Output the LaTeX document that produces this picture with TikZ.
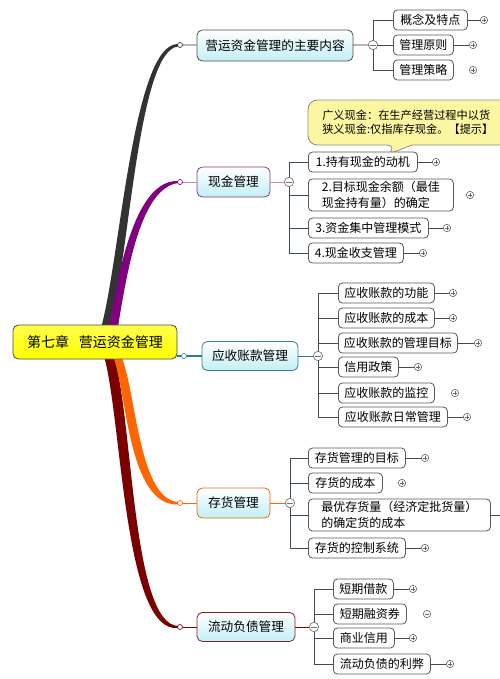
\documentclass[tikz,border=0pt]{standalone}
\usepackage{fontspec}
\setmainfont{Noto Sans CJK SC}
\usetikzlibrary{backgrounds}

\definecolor{branchA}{HTML}{333333}
\definecolor{branchB}{HTML}{800080}
\definecolor{branchC}{HTML}{2E7D8C}
\definecolor{branchD}{HTML}{FF6600}
\definecolor{branchE}{HTML}{7B0000}
\definecolor{topicfill}{HTML}{C2EFF5}
\definecolor{notefill}{HTML}{FAF6A2}
\definecolor{twigline}{HTML}{3E4C58}

\tikzset{
  rootbox/.style={draw=black!70, line width=0.6pt, rounded corners=4pt,
    top color=yellow!70!white, bottom color=yellow,
    font=\fontsize{10.5}{12}\selectfont, inner sep=0pt},
  topic/.style={line width=0.6pt, rounded corners=4pt, top color=white,
    bottom color=topicfill, font=\fontsize{9.5}{11}\selectfont, inner sep=0pt},
  leaf/.style={draw=black!65, line width=0.6pt, rounded corners=3pt, fill=white,
    align=left, font=\fontsize{9}{11.5}\selectfont, inner xsep=4pt,
    inner ysep=2pt, minimum height=15pt, anchor=west},
  twig/.style={draw=twigline, line width=0.6pt},
  knob/.style={circle, fill=white, line width=0.5pt, minimum size=3.75pt, inner sep=0pt},
  plusknob/.style={circle, draw=black!60, fill=white, line width=0.45pt,
    minimum size=5.5pt, inner sep=0pt,
    path picture={\draw[line width=0.45pt]
      ([xshift=-1.5pt]path picture bounding box.center) -- ([xshift=1.5pt]path picture bounding box.center)
      ([yshift=-1.5pt]path picture bounding box.center) -- ([yshift=1.5pt]path picture bounding box.center);}},
  minusknob/.style={circle, draw=black!60, fill=white, line width=0.45pt,
    minimum size=5.5pt, inner sep=0pt,
    path picture={\draw[line width=0.45pt]
      ([xshift=-1.5pt]path picture bounding box.center) -- ([xshift=1.5pt]path picture bounding box.center);}},
  fold/.style={circle, draw=black!55, fill=white, line width=0.5pt,
    minimum size=7pt, inner sep=0pt,
    path picture={\draw[line width=0.5pt]
      ([xshift=-2pt]path picture bounding box.center) -- ([xshift=2pt]path picture bounding box.center);}},
}

\begin{document}
\begin{tikzpicture}[x=0.75pt, y=-0.75pt]
\useasboundingbox (0,0) rectangle (500,679);
\clip (0,0) rectangle (500,679);

% central topic
\node[rootbox, minimum width=123pt, minimum height=25.5pt] (root) at (95,342)
  {第七章\hspace{0.7em}营运资金管理};

% main topics
\node[topic, draw=branchA!60!gray, minimum width=117pt, minimum height=23.25pt] (m1) at (275,45.5) {营运资金管理的主要内容};
\node[topic, draw=branchB!50!gray, minimum width=54.75pt, minimum height=22.5pt] (m2) at (233.5,182) {现金管理};
\node[topic, draw=branchC!80!gray, minimum width=72pt, minimum height=21.75pt] (m3) at (250,356) {应收账款管理};
\node[topic, draw=branchD!80!gray, minimum width=54.75pt, minimum height=22.5pt] (m4) at (233.5,503) {存货管理};
\node[topic, draw=branchE!70!gray, minimum width=73.5pt, minimum height=21.75pt] (m5) at (246,627) {流动负债管理};

% branch ends
\node[knob, draw=branchA] (k1) at (180,45) {};
\node[knob, draw=branchB] (k2) at (180,182) {};
\node[knob, draw=branchC] (k3) at (184,356) {};
\node[knob, draw=branchD] (k4) at (180,503) {};
\node[knob, draw=branchE] (k5) at (180,627) {};

% fold handles
\node[fold] (j1) at (373,45) {};
\node[fold] (j2) at (289,182) {};
\node[fold] (j3) at (318,356) {};
\node[fold] (j4) at (290,503) {};
\node[fold] (j5) at (314,627) {};

% children of m1
\foreach \i/\y/\w/\t/\px/\c in {1/20/74/概念及特点/484/1, 2/45/60/管理原则/473/1, 3/70/60/管理策略/473/0}{
  \node[leaf, minimum width={\w*0.75pt}] (c1-\i) at (393,\y) {\t};
  \node[plusknob] (p1-\i) at (\px,\y) {};
  \ifnum\c=1 \draw[twig] (c1-\i) -- (p1-\i); \fi
}

% children of m2
\foreach \i/\y/\w/\t/\px/\c in {1/162/109/1.持有现金的动机/436/1,
    2/195/145/{2.目标现金余额（最佳\\现金持有量）的确定}/470/0,
    3/228/120/3.资金集中管理模式/447/1, 4/253/95/4.现金收支管理/423/1}{
  \node[leaf, minimum width={\w*0.75pt}] (c2-\i) at (308,\y) {\t};
  \node[plusknob] (p2-\i) at (\px,\y) {};
  \ifnum\c=1 \draw[twig] (c2-\i) -- (p2-\i); \fi
}

% children of m3
\foreach \i/\y/\w/\t/\px/\c in {1/293/96/应收账款的功能/453/1, 2/318/96/应收账款的成本/453/1,
    3/343/119/应收账款的管理目标/478/1, 4/367/60/信用政策/418/1,
    5/393/96/应收账款的监控/455/0, 6/417/109/应收账款日常管理/467/1}{
  \node[leaf, minimum width={\w*0.75pt}] (c3-\i) at (338,\y) {\t};
  \node[plusknob] (p3-\i) at (\px,\y) {};
  \ifnum\c=1 \draw[twig] (c3-\i) -- (p3-\i); \fi
}

% children of m4
\foreach \i/\y/\w/\t/\px/\c in {1/458/97/存货管理的目标/425/1, 2/483/74/存货的成本/402/0,
    3/515/182/{最优存货量（经济定批货量）\\的确定货的成本}/512/1, 4/548/97/存货的控制系统/425/1}{
  \node[leaf, minimum width={\w*0.75pt}] (c4-\i) at (308,\y) {\t};
  \node[plusknob] (p4-\i) at (\px,\y) {};
  \ifnum\c=1 \draw[twig] (c4-\i) -- (p4-\i); \fi
}

% children of m5
\foreach \i/\y/\w/\t/\px/\c/\k in {1/589/60/短期借款/413/1/plusknob, 2/614/73/短期融资券/427/0/minusknob,
    3/638/61/商业信用/413/1/plusknob, 4/664/97/流动负债的利弊/450/1/plusknob}{
  \node[leaf, minimum width={\w*0.75pt}] (c5-\i) at (333,\y) {\t};
  \node[\k] (p5-\i) at (\px,\y) {};
  \ifnum\c=1 \draw[twig] (c5-\i) -- (p5-\i); \fi
}

% note on the cash topic
\node[font=\fontsize{8.4}{10.5}\selectfont, align=left, anchor=west, inner sep=0pt] (tip) at (322,122)
  {广义现金：在生产经营过程中以货\\狭义现金:仅指库存现金。【提示】};

% topic connectors
\draw[branchA, line width=0.6pt] (k1) -- (m1);
\draw[branchB!50, line width=0.6pt] (k2) -- (m2);
\draw[branchC, line width=0.8pt] (k3 -| root.east) -- (k3) -- (m3);
\draw[branchD, line width=0.6pt] (k4) -- (m4);
\draw[branchE, line width=0.6pt] (k5) -- (m5);
\draw[branchA, line width=0.6pt] (m1) -- (j1);
\draw[branchB!45, line width=0.6pt] (m2) -- (j2);
\draw[branchC, line width=0.6pt] (m3) -- (j3);
\draw[branchD, line width=0.6pt] (m4) -- (j4);
\draw[branchE, line width=0.6pt] (m5) -- (j5);

\begin{scope}[on background layer]
% tapered branches from the centre
\fill[branchA] (101,328) .. controls (120,260) and (133,43) .. (178,44)
  -- (178,46.5) .. controls (138,50) and (129,260) .. (110,328) -- cycle;
\fill[branchB] (109,327) .. controls (120,262) and (137,180) .. (178,181)
  -- (178,183) .. controls (142,188) and (128,264) .. (118,327) -- cycle;
\fill[branchE] (104,356) .. controls (122,420) and (124,634) .. (178,628)
  -- (178,626) .. controls (132,624) and (133,420) .. (114,356) -- cycle;
\fill[branchD] (113,356) .. controls (127,392) and (128,506) .. (178,504.5)
  -- (178,502) .. controls (138,499) and (136,388) .. (121,356) -- cycle;
% trunks
\foreach \g/\n in {1/3, 2/4, 3/6, 4/4, 5/4}{
  \draw[twig] (j\g |- c\g-1.west) -- (j\g |- c\g-\n.west);
  \foreach \i in {1,...,\n}
    \draw[twig] (j\g |- c\g-\i.west) -- (c\g-\i.west);
}
% callout
\draw[draw=black!45, fill=notefill, line width=0.6pt] (396,145) -- (389,154) -- (412,145)
  [rounded corners=7pt] -- (520,145) -- (520,100) -- (308,100) -- (308,145) -- cycle;
\end{scope}

\end{tikzpicture}
\end{document}
